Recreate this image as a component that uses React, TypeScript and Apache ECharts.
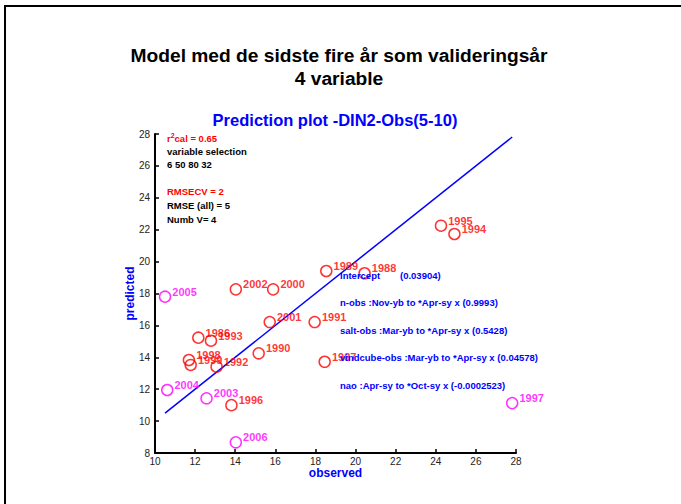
import React, { useEffect, useRef } from "react";
import * as echarts from "echarts";

const calYears = ["1986", "1987", "1988", "1989", "1990", "1991", "1992", "1993", "1994", "1995", "1996", "1998", "1999", "2000", "2001", "2002"];
const calObserved = [12.16, 18.46, 20.45, 18.54, 15.17, 17.96, 13.07, 12.79, 24.93, 24.26, 13.81, 11.69, 11.78, 15.89, 15.72, 14.03];
const calPredicted = [15.23, 13.72, 19.27, 19.41, 14.25, 16.21, 13.41, 15.04, 21.73, 22.25, 11.0, 13.83, 13.52, 18.26, 16.21, 18.26];

const valYears = ["1997", "2003", "2004", "2005", "2006"];
const valObserved = [27.81, 12.57, 10.61, 10.5, 14.03];
const valPredicted = [11.13, 11.43, 11.95, 17.8, 8.67];

const xTicks = { min: 10, max: 28, interval: 2 };
const yTicks = { min: 8, max: 28, interval: 2 };

const statsLines = ["variable selection", "6 50 80 32"];
const rmseLines = ["RMSE (all) = 5", "Numb V= 4"];
const modelTerms = [
  "n-obs :Nov-yb to *Apr-sy x (0.9993)",
  "salt-obs :Mar-yb to *Apr-sy x (0.5428)",
  "vindcube-obs :Mar-yb to *Apr-sy x (0.04578)",
  "nao :Apr-sy to *Oct-sy x (-0.0002523)",
];

const FONT = "Liberation Sans, Arial, sans-serif";

export default function App() {
  const ref = useRef<HTMLDivElement>(null);
  useEffect(() => {
    const chart = echarts.init(ref.current!, null, { renderer: "svg" });
    const allObs = [...calObserved, ...valObserved];
    const lo = Math.min(...allObs);
    const hi = Math.max(...allObs);
    const mk = (xs: number[], ys: number[], names: string[]) =>
      xs.map((x, i) => ({ value: [x, ys[i]], name: names[i] }));
    const labelCfg = (color: string) => ({
      show: true,
      position: "right",
      distance: 1,
      offset: [0, -5],
      formatter: (p: any) => p.name,
      color,
      fontFamily: FONT,
      fontWeight: "bold",
      fontSize: 11,
    });
    const txt = (x: number, y: number, text: string, fill: string, size = 9.5) => ({
      type: "text",
      x,
      y,
      z: 100,
      style: { text, fill, font: `bold ${size}px ${FONT}`, textVerticalAlign: "middle" },
    });
    chart.setOption({
      animation: false,
      backgroundColor: "#fff",
      grid: { left: 155, right: 165, top: 134, bottom: 51 },
      xAxis: {
        type: "value",
        ...xTicks,
        name: "observed",
        nameLocation: "middle",
        nameGap: 14,
        nameMoveOverlap: false,
        nameTextStyle: { color: "#0000ff", fontWeight: "bold", fontSize: 12, fontFamily: FONT },
        axisLine: { lineStyle: { color: "#000", width: 2 } },
        axisTick: { inside: true, length: 4, lineStyle: { color: "#000", width: 1.5 } },
        axisLabel: { color: "#222", fontSize: 10, fontFamily: FONT, margin: 3 },
        splitLine: { show: false },
      },
      yAxis: {
        type: "value",
        ...yTicks,
        name: "predicted",
        nameLocation: "middle",
        nameGap: 19,
        nameMoveOverlap: false,
        nameTextStyle: { color: "#0000ff", fontWeight: "bold", fontSize: 12, fontFamily: FONT },
        axisLine: { show: true, lineStyle: { color: "#000", width: 2 } },
        axisTick: { show: true, inside: true, length: 4, lineStyle: { color: "#000", width: 1.5 } },
        axisLabel: { color: "#222", fontSize: 10, fontFamily: FONT, margin: 5 },
        splitLine: { show: false },
      },
      title: [
        {
          text: "Model med de sidste fire år som valideringsår\n4 variable",
          left: 334,
          top: 39,
          textAlign: "center",
          textStyle: { fontFamily: FONT, fontWeight: "bold", fontSize: 19.2, lineHeight: 23, color: "#000" },
        },
        {
          text: "Prediction plot -DIN2-Obs(5-10)",
          left: 330,
          top: 106,
          textAlign: "center",
          textStyle: { fontFamily: FONT, fontWeight: "bold", fontSize: 16.5, color: "#0000ff" },
        },
      ],
      series: [
        {
          type: "line",
          data: [[lo, lo], [hi, hi]],
          showSymbol: false,
          lineStyle: { color: "#0000ff", width: 1.5 },
          z: 1,
        },
        {
          type: "scatter",
          data: mk(calObserved, calPredicted, calYears),
          symbol: "circle",
          symbolSize: 11,
          itemStyle: { color: "transparent", borderColor: "#ff0000", borderWidth: 1.5 },
          label: labelCfg("#ff0000"),
          z: 3,
        },
        {
          type: "scatter",
          data: mk(valObserved, valPredicted, valYears),
          symbol: "circle",
          symbolSize: 11,
          itemStyle: { color: "transparent", borderColor: "#ff00ff", borderWidth: 1.5 },
          label: labelCfg("#ff00ff"),
          z: 3,
        },
      ],
      graphic: [
        { type: "rect", shape: { x: 4, y: 5, width: 2, height: 499 }, style: { fill: "#000" } },
        { type: "rect", shape: { x: 4, y: 5, width: 677, height: 2 }, style: { fill: "#000" } },
        {
          type: "text",
          x: 167,
          y: 138,
          z: 100,
          style: {
            text: "{a|r}{s|2}{a|cal = 0.65}",
            textVerticalAlign: "middle",
            rich: {
              a: { fill: "#ff0000", font: `bold 9.5px ${FONT}` },
              s: { fill: "#ff0000", font: `bold 7px ${FONT}`, padding: [0, 0, 6, 0] },
            },
          },
        },
        txt(167, 151, statsLines[0], "#000"),
        txt(167, 164.5, statsLines[1], "#000"),
        txt(167, 191, "RMSECV = 2", "#ff0000"),
        txt(167, 205, rmseLines[0], "#000"),
        txt(167, 219, rmseLines[1], "#000"),
        txt(340, 275, "Intercept", "#0000ff"),
        txt(400, 275, "(0.03904)", "#0000ff"),
        ...modelTerms.map((t, i) => txt(340, 302.7 + i * 27.5, t, "#0000ff")),
      ],
    });
    return () => chart.dispose();
  }, []);
  return <div ref={ref} style={{ position: "fixed", left: 0, top: 0, width: 681, height: 504 }} />;
}
